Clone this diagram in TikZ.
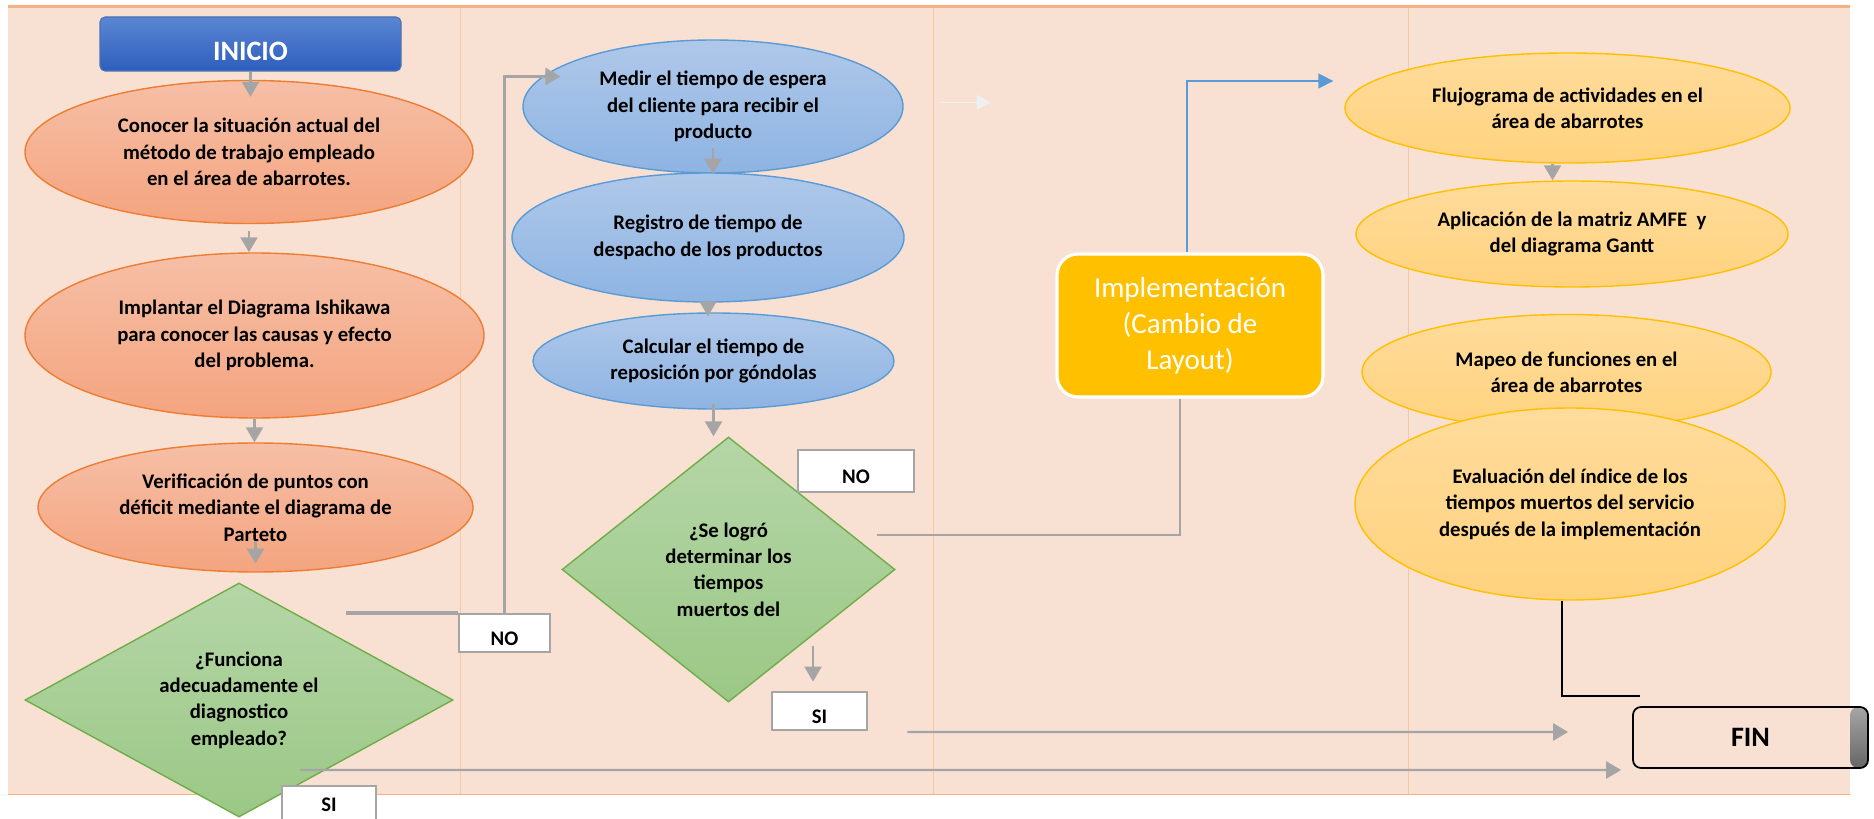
\documentclass[tikz,border=0pt]{standalone}
\usepackage{fontspec}
\setmainfont{Carlito}
\usetikzlibrary{arrows.meta, shapes.geometric, calc}
\definecolor{cbg}{HTML}{F8E0D3}
\definecolor{cline}{HTML}{F4B183}
\definecolor{cgray}{HTML}{A5A5A5}
\definecolor{corg}{HTML}{ED7D31}
\definecolor{corgtop}{HTML}{F6BFA6}
\definecolor{corgbot}{HTML}{F4A47F}
\definecolor{cblue}{HTML}{5B9BD5}
\definecolor{cbluetop}{HTML}{AFC8E9}
\definecolor{cbluebot}{HTML}{8EB4E3}
\definecolor{cgreen}{HTML}{70AD47}
\definecolor{cgreentop}{HTML}{B5D6A7}
\definecolor{cgreenbot}{HTML}{9BC886}
\definecolor{cyel}{HTML}{FFC000}
\definecolor{cyeltop}{HTML}{FFDC9C}
\definecolor{cyelbot}{HTML}{FFD27E}
\definecolor{cinitop}{HTML}{5A86D2}
\definecolor{cinibot}{HTML}{2E5EBE}

\begin{document}
\begin{tikzpicture}[
    btxt/.style={font=\fontsize{11.8}{15}\selectfont\bfseries, align=center, inner sep=0pt},
    orgell/.style={ellipse, btxt, draw=corg, line width=0.8pt, top color=corgtop, bottom color=corgbot},
    bluell/.style={ellipse, btxt, draw=cblue, line width=0.8pt, top color=cbluetop, bottom color=cbluebot},
    yelell/.style={ellipse, btxt, draw=cyel, line width=0.8pt, top color=cyeltop, bottom color=cyelbot},
    decis/.style={diamond, btxt, draw=cgreen, line width=0.8pt, top color=cgreentop, bottom color=cgreenbot},
    answer/.style={rectangle, btxt, draw=cgray, line width=1.6pt, fill=white, text height=0.5cm, text depth=0pt},
    garrow/.style={draw=cgray, line width=1.3pt, -{Triangle[length=0.3cm, width=0.34cm]}},
    gline/.style={draw=cgray, line width=1.4pt},
    barrow/.style={draw=cblue, line width=0.9pt, -{Triangle[length=0.3cm, width=0.3cm]}}
]
    \useasboundingbox (0,0) rectangle (37.48,-16.38);
    \fill[cbg] (0.16,-0.16) rectangle (37.0,-15.88);
    \draw[cline, line width=1.7pt] (0.16,-0.14) -- (37.0,-0.14);
    \draw[cline, line width=0.5pt] (0.16,-15.88) -- (37.0,-15.88);
    \foreach \x in {9.2,18.66,28.16} \draw[cline!70, line width=0.5pt] (\x,-0.16) -- (\x,-15.88);

    \node (inicio) [rectangle, rounded corners=0.1cm, draw=cinitop!85!black, line width=0.6pt, top color=cinitop, bottom color=cinibot, minimum width=6.02cm, minimum height=1.08cm, text height=0.68cm, text depth=0pt, inner sep=0pt, text=white, font=\fontsize{16}{18}\selectfont\bfseries] at (5.01,-0.88) {INICIO};
    \node (e1) [orgell, minimum width=8.96cm, minimum height=2.86cm] at (4.98,-3.04) {Conocer la situación actual del\\método de trabajo empleado\\en el área de abarrotes.};
    \node (e2) [orgell, minimum width=9.18cm, minimum height=3.3cm] at (5.09,-6.71) {Implantar el Diagrama Ishikawa\\para conocer las causas y efecto\\del problema.};
    \node (e3) [orgell, minimum width=8.7cm, minimum height=2.58cm] at (5.11,-10.15) {Verificación de puntos con\\déficit mediante el diagrama de\\Parteto};
    \node (d1) [decis, aspect=1.83, minimum width=8.56cm, minimum height=4.68cm] at (4.78,-14.0) {¿Funciona\\adecuadamente el\\diagnostico\\empleado?};
    \node (no1) [answer, minimum width=1.82cm, minimum height=0.76cm] at (10.09,-12.66) {NO};
    \node (si1) [answer, text height=0.2cm, minimum width=1.88cm, minimum height=0.8cm] at (6.58,-16.12) {SI};

    \node (b1) [bluell, minimum width=7.6cm, minimum height=2.66cm] at (14.26,-2.13) {Medir el tiempo de espera\\del cliente para recibir el\\producto};
    \node (b2) [bluell, minimum width=7.84cm, minimum height=2.58cm] at (14.16,-4.75) {Registro de tiempo de\\despacho de los productos};
    \node (b3) [bluell, minimum width=7.22cm, minimum height=1.92cm] at (14.27,-7.22) {Calcular el tiempo de\\reposición por góndolas};
    \node (d2) [decis, aspect=1.26, minimum width=6.66cm, minimum height=5.3cm] at (14.57,-11.39) {¿Se logró\\determinar los\\tiempos\\muertos del};
    \node (no2) [answer, minimum width=2.32cm, minimum height=0.84cm] at (17.12,-9.42) {NO};
    \node (si2) [answer, minimum width=1.9cm, minimum height=0.76cm] at (16.39,-14.22) {SI};

    \node (impl) [rectangle, rounded corners=0.42cm, fill=cyel, draw=white, line width=1.8pt, minimum width=5.32cm, minimum height=2.86cm, inner sep=0pt, align=center, text=white, font=\fontsize{16.5}{20.5}\selectfont] at (23.8,-6.51) {Implementación\\(Cambio de\\Layout)};

    \node (y1) [yelell, minimum width=8.9cm, minimum height=2.2cm] at (31.35,-2.16) {Flujograma de actividades en el\\área de abarrotes};
    \node (y2) [yelell, minimum width=8.64cm, minimum height=2.12cm] at (31.44,-4.68) {Aplicación de la matriz AMFE~~y\\del diagrama Gantt};
    \node (y3) [yelell, minimum width=8.18cm, minimum height=2.3cm] at (31.33,-7.44) {Mapeo de funciones en el\\área de abarrotes};
    \node (y4) [yelell, minimum width=8.6cm, minimum height=3.84cm] at (31.4,-10.08) {Evaluación del índice de los\\tiempos muertos del servicio\\después de la implementación};
    \node (fin) [rectangle, rounded corners=0.16cm, draw=black, line width=1pt, fill=cbg, minimum width=4.7cm, minimum height=1.22cm, font=\fontsize{16}{18}\selectfont\bfseries,
        path picture={\shade[top color=cgray, bottom color=black!60] ([xshift=-0.36cm]path picture bounding box.north east) rectangle (path picture bounding box.south east);}] at (35.01,-14.75) {FIN};

    \draw[garrow] (inicio.south) -- ([yshift=-0.34cm]inicio.south |- e1.north);
    \draw[garrow, shorten <=0.14cm] (e1.south) -- (e1.south |- e2.north);
    \draw[garrow] (e2.south) -- (e2.south |- e3.north);
    \draw[garrow] ([yshift=0.64cm]e3.south) -- ([yshift=0.18cm]e3.south);
    \draw[gline, line width=2.2pt] (no1.north west) -- (no1.north west -| d1.north east);
    \draw[garrow, line width=1.6pt] (no1.north) |- ([shift={(0.76,0.6)}]b1.west);
    \draw[garrow] ([yshift=0.52cm]b1.south) -- (b1.south);
    \draw[garrow, shorten >=-0.08cm] (b2.south) -- (b2.south |- b3.north);
    \draw[garrow, shorten <=-0.12cm] (b3.south) -- (b3.south |- d2.north);
    \draw[garrow] ([shift={(-0.13,0.9)}]si2.north) -- ([shift={(-0.13,0.18)}]si2.north);
    \draw[draw=gray!12, line width=0.8pt, -{Triangle[length=0.28cm, width=0.3cm]}] ([shift={(0.74,0.08)}]b1.east) -- ++(1.0,0);
    \draw[gline] ([shift={(-0.38,0.69)}]d2.east) -| ([xshift=-0.2cm]impl.south);
    \draw[barrow] ([xshift=-0.06cm]impl.north) |- ([shift={(-0.22,0.54)}]y1.west);
    \draw[garrow] ([xshift=-0.3cm]y1.south) -- ([xshift=-0.3cm]y1.south |- y2.north);
    \draw[black, line width=1.3pt] ([xshift=-0.16cm]y4.south) |- ([shift={(0.16,0.2)}]fin.north west);
    \draw[garrow] ([shift={(0.78,-0.42)}]si2.east) -- ([shift={(-1.28,0.11)}]fin.west);
    \draw[garrow] ([shift={(1.22,-1.4)}]d1.center) -- ([shift={(-0.22,-0.65)}]fin.west);
\end{tikzpicture}
\end{document}
